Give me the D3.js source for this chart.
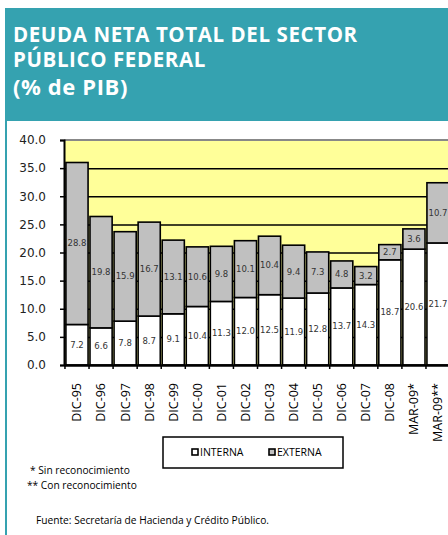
<!DOCTYPE html>
<html>
<head>
<meta charset="utf-8">
<script src="https://cdn.jsdelivr.net/npm/d3@7"></script>
<style>
  body { margin: 0; background: #fff; }
  svg { display: block; }
</style>
</head>
<body>
<svg id="chart" width="448" height="535"></svg>
<script>
// data
const categories = ["DIC-95", "DIC-96", "DIC-97", "DIC-98", "DIC-99", "DIC-00", "DIC-01", "DIC-02",
  "DIC-03", "DIC-04", "DIC-05", "DIC-06", "DIC-07", "DIC-08", "MAR-09*", "MAR-09**"];
const interna = [7.2, 6.6, 7.8, 8.7, 9.1, 10.4, 11.3, 12.0, 12.5, 11.9, 12.8, 13.7, 14.3, 18.7, 20.6, 21.7];
const externa = [28.8, 19.8, 15.9, 16.7, 13.1, 10.6, 9.8, 10.1, 10.4, 9.4, 7.3, 4.8, 3.2, 2.7, 3.6, 10.7];
const yTicks = [0, 5, 10, 15, 20, 25, 30, 35, 40];
const keys = ["interna", "externa"];
const colors = { interna: "#ffffff", externa: "#c0c0c0" };
const legendLabels = { interna: "INTERNA", externa: "EXTERNA" };

const data = categories.map((c, i) => ({ cat: c, interna: interna[i], externa: externa[i] }));

const svg = d3.select("#chart");
const teal = "#35a2b0";

// frame + header
svg.append("rect").attr("x", 5).attr("y", 8).attr("width", 450).attr("height", 113).attr("fill", teal);
svg.append("rect").attr("x", 5).attr("y", 8).attr("width", 2).attr("height", 535).attr("fill", teal);

const titleLines = [
  { t: "DEUDA NETA TOTAL DEL SECTOR", y: 42, size: 20.5 },
  { t: "PÚBLICO FEDERAL", y: 67, size: 20.5 },
  { t: "(% de PIB)", y: 95, size: 22 }
];
svg.append("g").selectAll("text")
  .data(titleLines)
  .join("text")
  .attr("x", 13)
  .attr("y", d => d.y)
  .attr("font-family", "Open Sans, sans-serif")
  .attr("font-weight", "bold")
  .attr("font-size", d => d.size)
  .attr("letter-spacing", 0.6)
  .attr("fill", "#fff")
  .text(d => d.t);

// plot area
const pLeft = 64, pTop = 140, pBottom = 365, pRight = 451;

const xScale = d3.scaleBand().domain(categories).range([pLeft, pRight]).padding(0.08);
const yScale = d3.scaleLinear().domain([0, 40]).range([pBottom, pTop]);

svg.append("rect")
  .attr("x", pLeft).attr("y", pTop)
  .attr("width", pRight - pLeft).attr("height", pBottom - pTop)
  .attr("fill", "#ffff99");

// gridlines
svg.append("g")
  .attr("transform", `translate(${pLeft},0)`)
  .call(d3.axisLeft(yScale).tickValues(yTicks.filter(d => d > 0 && d < 40)).tickSize(-(pRight - pLeft)).tickFormat(""))
  .call(g => g.select(".domain").remove())
  .call(g => g.selectAll("line").attr("stroke", "#000").attr("stroke-width", 1.5));

svg.append("line")
  .attr("x1", pLeft).attr("x2", pRight)
  .attr("y1", yScale(40)).attr("y2", yScale(40))
  .attr("stroke", "#888").attr("stroke-width", 2);

// stacked bars
const layers = d3.stack().keys(keys)(data);

const layerG = svg.selectAll(".layer")
  .data(layers)
  .join("g")
  .attr("class", "layer")
  .attr("fill", d => colors[d.key]);

layerG.selectAll("rect")
  .data(d => d)
  .join("rect")
  .attr("x", d => xScale(d.data.cat))
  .attr("width", xScale.bandwidth())
  .attr("y", d => yScale(d[1]))
  .attr("height", d => yScale(d[0]) - yScale(d[1]))
  .attr("stroke", "#000")
  .attr("stroke-width", 1.6);

// value labels
layerG.selectAll("text")
  .data(d => d.map(s => ({ s, key: d.key })))
  .join("text")
  .attr("x", d => xScale(d.s.data.cat) + xScale.bandwidth() / 2)
  .attr("y", d => (yScale(d.s[0]) + yScale(d.s[1])) / 2)
  .attr("dy", "0.35em")
  .attr("text-anchor", "middle")
  .attr("font-family", "DejaVu Sans, sans-serif")
  .attr("font-size", 8.5)
  .attr("fill", "#333")
  .text(d => d.s.data[d.key].toFixed(1));

// y axis
svg.append("g")
  .attr("transform", `translate(${pLeft},0)`)
  .call(d3.axisLeft(yScale).tickValues(yTicks).tickSize(4).tickPadding(14).tickFormat(d3.format(".1f")))
  .call(g => g.select(".domain").attr("stroke", "#000").attr("stroke-width", 2))
  .call(g => g.selectAll("line").attr("stroke", "#000").attr("stroke-width", 1.5))
  .call(g => g.selectAll("text").attr("font-family", "DejaVu Sans, sans-serif").attr("font-size", 12).attr("fill", "#222"));

// x axis: labels centred, ticks at band edges
const xg = svg.append("g")
  .attr("transform", `translate(0,${pBottom})`)
  .call(d3.axisBottom(xScale).tickSize(0).tickPadding(0))
  .call(g => g.select(".domain").attr("stroke", "#000").attr("stroke-width", 2.5));
xg.selectAll(".tick text")
  .attr("transform", "rotate(-90)")
  .attr("text-anchor", "end")
  .attr("x", -18)
  .attr("y", 0)
  .attr("dy", "0.35em")
  .attr("font-family", "Open Sans, sans-serif")
  .attr("font-size", 12.5)
  .attr("fill", "#000");

const step = xScale.step();
const edges = categories.map(c => xScale(c) - (step - xScale.bandwidth()) / 2);
svg.append("g").selectAll("line")
  .data(edges)
  .join("line")
  .attr("x1", d => d).attr("x2", d => d)
  .attr("y1", pBottom).attr("y2", pBottom + 4)
  .attr("stroke", "#000").attr("stroke-width", 1.5);

// legend
const legend = svg.append("g");
legend.append("rect")
  .attr("x", 163).attr("y", 437).attr("width", 180).attr("height", 31)
  .attr("fill", "#fff").attr("stroke", "#000").attr("stroke-width", 1.5);
const legendX = { interna: 192, externa: 269 };
keys.forEach(k => {
  legend.append("rect")
    .attr("x", legendX[k]).attr("y", 449).attr("width", 6).attr("height", 6)
    .attr("fill", colors[k]).attr("stroke", "#000").attr("stroke-width", 1.6);
  legend.append("text")
    .attr("x", legendX[k] + 8).attr("y", 452).attr("dy", "0.35em")
    .attr("font-family", "Open Sans, sans-serif").attr("font-size", 10.5)
    .attr("fill", "#000")
    .text(legendLabels[k]);
});

// notes
const notes = svg.append("g")
  .attr("font-family", "Open Sans, sans-serif")
  .attr("font-size", 10.2)
  .attr("fill", "#000");
notes.append("text").attr("x", 30).attr("y", 474).text("* Sin reconocimiento");
notes.append("text").attr("x", 27).attr("y", 489).text("** Con reconocimiento");
notes.append("text").attr("x", 36).attr("y", 524).text("Fuente: Secretaría de Hacienda y Crédito Público.");
</script>
</body>
</html>
